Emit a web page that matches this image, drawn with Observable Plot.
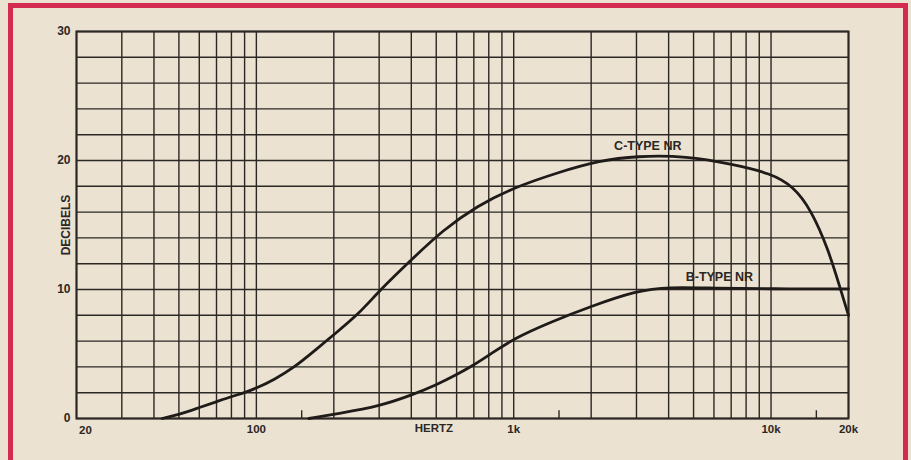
<!DOCTYPE html>
<html>
<head>
<meta charset="utf-8">
<script src="https://cdn.jsdelivr.net/npm/d3@7"></script>
<script src="https://cdn.jsdelivr.net/npm/@observablehq/plot@0.6"></script>
<style>
  html, body { margin: 0; padding: 0; background: #ece2d2; }
  #wrap { position: relative; width: 911px; height: 460px; overflow: hidden; background: #ece2d2; }
  #border { position: absolute; left: 8px; top: 3px; width: 890px; height: 452px; border: 5px solid #d42b52; box-sizing: content-box; pointer-events: none; }
  #chart { position: absolute; left: 0; top: 0; }
</style>
</head>
<body>
<div id="wrap"><div id="chart"></div><div id="border"></div></div>
<script>
// Frequency grid (Hz) and level grid (dB)
const gridFreqs = [20,30,40,50,60,70,80,90,100,200,300,400,500,600,700,800,900,1000,2000,3000,4000,5000,6000,7000,8000,9000,10000,20000];
const shortTickFreqs = [150, 1500, 15000];
const gridDb = [0,2,4,6,8,10,12,14,16,18,20,22,24,26,28,30];
const xTickValues = [100, 1000, 10000, 20000];
const xTickLabels = ["100", "1k", "10k", "20k"];
const xFirstTick = [20];
const xFirstLabel = ["20"];
const yTickValues = [0, 10, 20, 30];

// C-type NR curve
const cFreq = [43,50,60,70,80,90,100,117,140,167,200,250,300,400,530,723,1000,1500,2160,3000,4700,7100,10000,12200,14300,16700,18500,20000];
const cDb   = [0,0.3,0.85,1.3,1.7,2.0,2.35,3.0,3.95,5.2,6.5,8.1,9.9,12.3,14.6,16.5,17.9,19.1,20.0,20.35,20.35,19.7,19.0,18.0,16.2,13.1,10.2,8.0];

// B-type NR curve
const bFreq = [160,210,300,400,500,600,700,800,1000,1400,2000,3000,4000,6000,10000,20000];
const bDb   = [0,0.4,0.95,1.8,2.6,3.4,4.15,4.9,6.2,7.5,8.7,9.9,10.2,10.1,10.05,10.05];

// Curve annotations
const labelText = ["C-TYPE NR", "B-TYPE NR"];
const labelFreq = [3320, 6300];
const labelDb   = [21.1, 11.0];

const cData = cFreq.map((f, i) => ({f, db: cDb[i]}));
const bData = bFreq.map((f, i) => ({f, db: bDb[i]}));
const labels = labelText.map((t, i) => ({t, f: labelFreq[i], db: labelDb[i]}));
const xTicks = xTickValues.map((v, i) => ({v, t: xTickLabels[i]}));
const xFirst = xFirstTick.map((v, i) => ({v, t: xFirstLabel[i]}));

const ink = "#2b2724";
const font = "'Liberation Sans', Arial, sans-serif";

const chart = Plot.plot({
  width: 911,
  height: 460,
  marginLeft: 76,
  marginRight: 63,
  marginTop: 31,
  marginBottom: 42,
  style: { background: "transparent", fontFamily: font, color: ink },
  x: { type: "log", domain: [20, 20000], axis: null },
  y: { domain: [0, 30], axis: null },
  marks: [
    Plot.ruleX(gridFreqs, { stroke: ink, strokeWidth: 1.4 }),
    Plot.ruleY(gridDb, { stroke: ink, strokeWidth: 1.4 }),
    Plot.ruleX(shortTickFreqs, { y1: 0, y2: 0.6, stroke: ink, strokeWidth: 1.4 }),
    Plot.frame({ stroke: ink, strokeWidth: 2 }),
    Plot.line(cData, { x: "f", y: "db", curve: "basis", stroke: "#1e1b19", strokeWidth: 2.8 }),
    Plot.line(bData, { x: "f", y: "db", curve: "basis", stroke: "#1e1b19", strokeWidth: 2.8 }),
    Plot.text(labels, { x: "f", y: "db", text: "t", fontSize: 12.5, fontWeight: "bold", fill: ink }),
    Plot.text(xTicks, { x: "v", y: () => 0, text: "t", dy: 11, fontSize: 11.5, fontWeight: "bold", fill: ink }),
    Plot.text(xFirst, { x: "v", y: () => 0, text: "t", dy: 12, dx: 9, fontSize: 11.5, fontWeight: "bold", fill: ink }),
    Plot.text(yTickValues, { x: () => 20, y: d => d, text: d => String(d), dx: -6, textAnchor: "end", fontSize: 12, fontWeight: "bold", fill: ink }),
    Plot.text(["HERTZ"], { x: () => 490, y: () => 0, text: d => d, dy: 10, fontSize: 11.5, fontWeight: "bold", fill: ink }),
    Plot.text(["DECIBELS"], { frameAnchor: "left", y: () => 15, text: d => d, rotate: -90, dx: -10, textAnchor: "middle", fontSize: 12, fontWeight: "bold", fill: ink })
  ]
});
document.getElementById("chart").appendChild(chart);
</script>
</body>
</html>
